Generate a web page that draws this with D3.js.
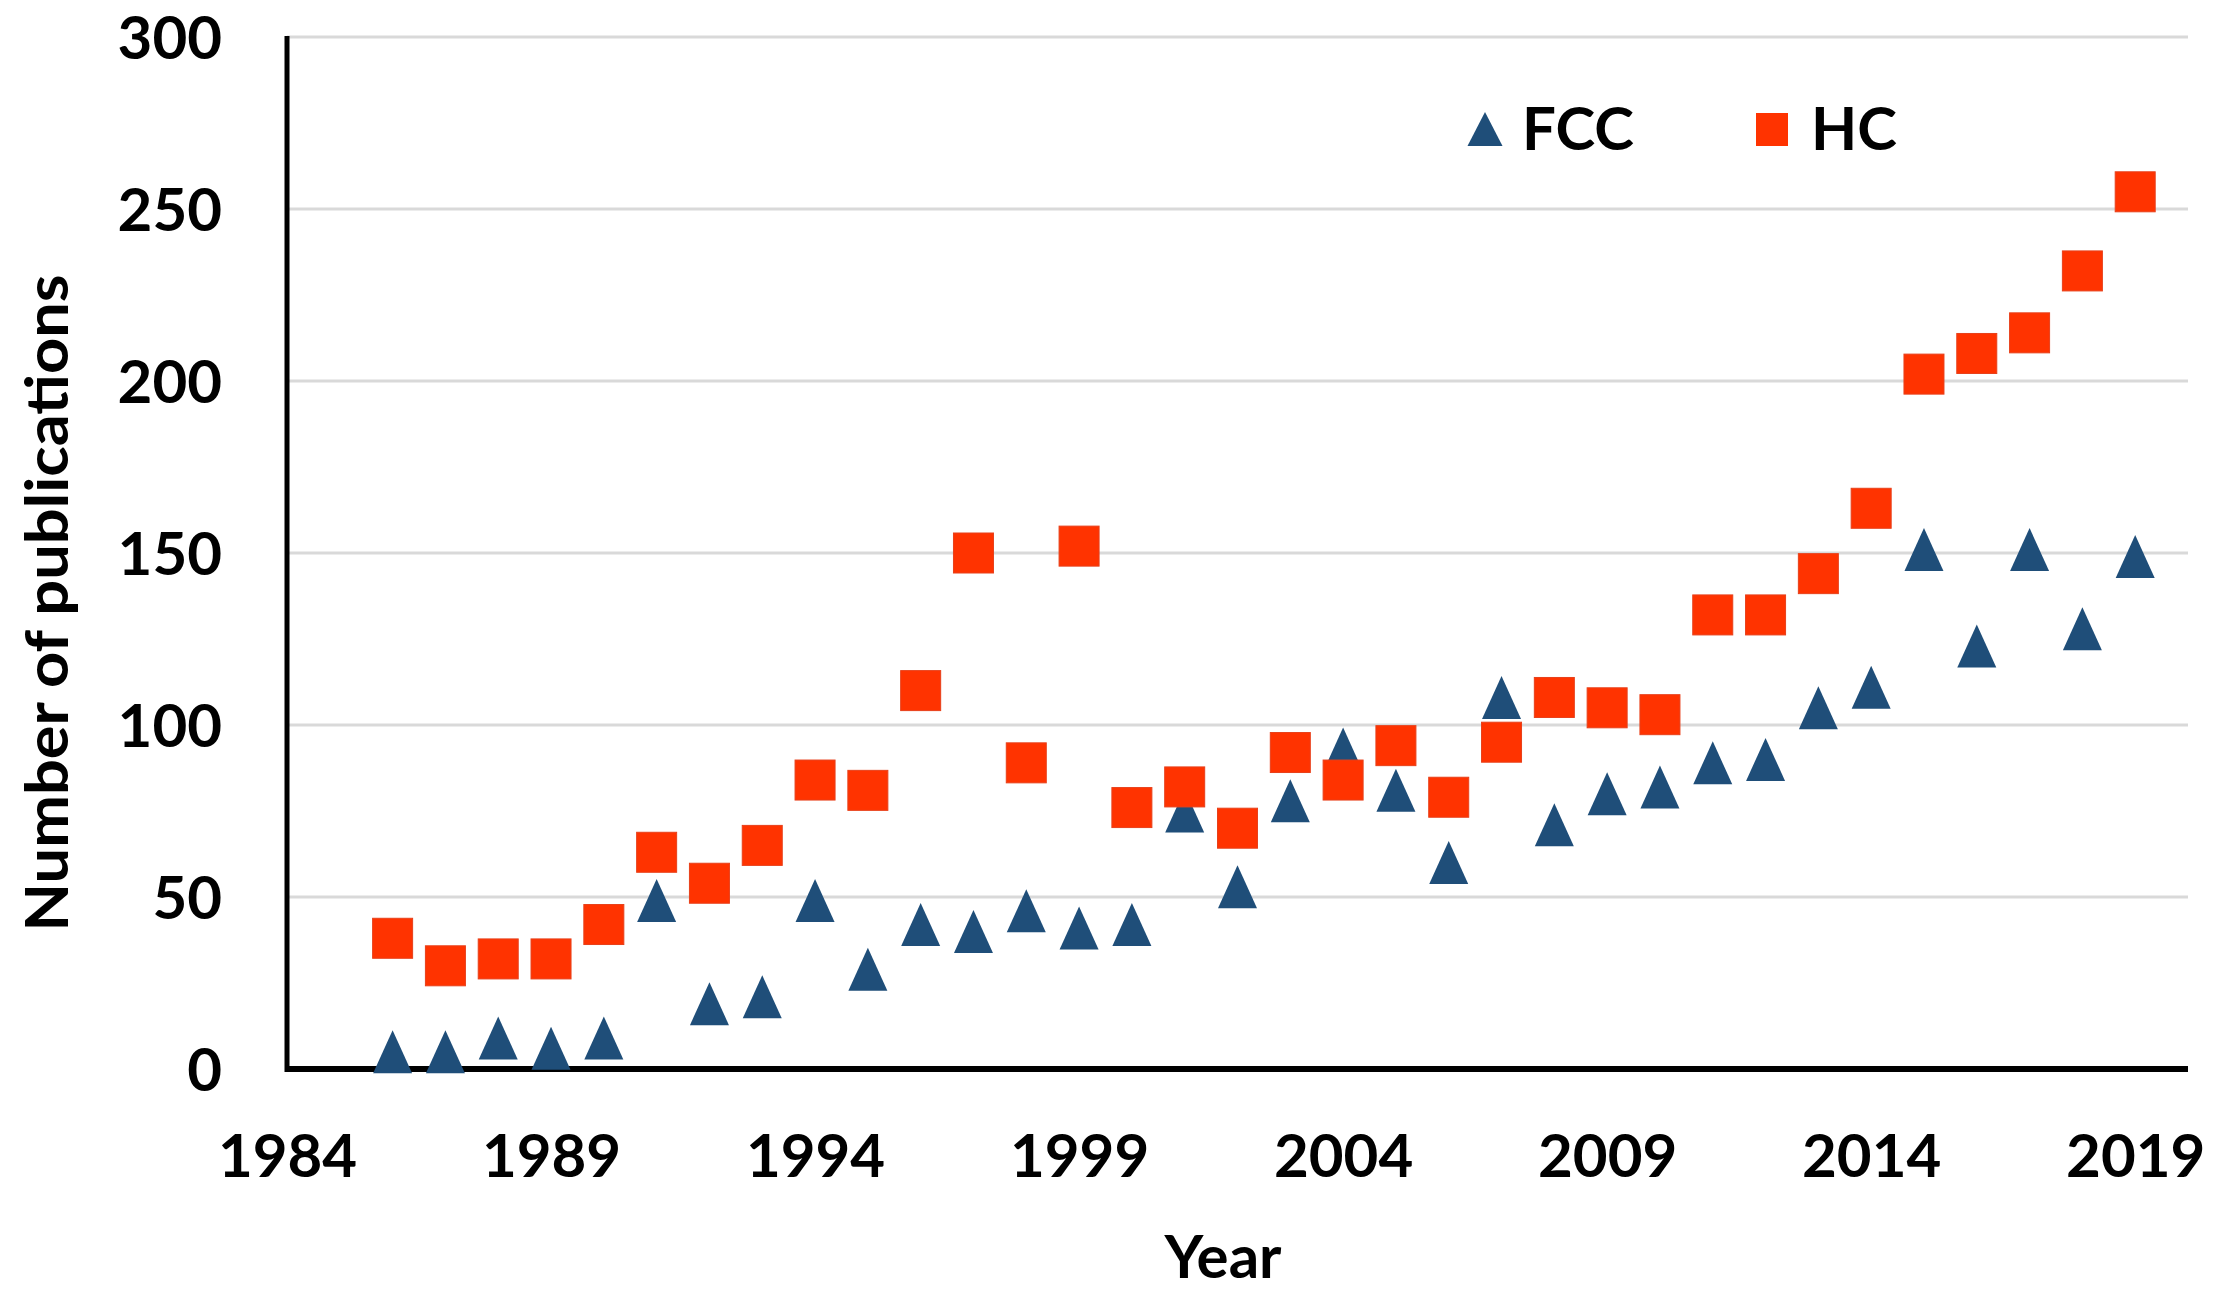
<!DOCTYPE html>
<html>
<head>
<meta charset="utf-8">
<script src="https://cdn.jsdelivr.net/npm/d3@7"></script>
<style>
  html, body { margin: 0; padding: 0; background: #fff; }
  svg { display: block; }
  text { font-family: Lato, "Open Sans", sans-serif; font-weight: bold; fill: #000; }
</style>
</head>
<body>
<svg id="chart" width="2215" height="1297"></svg>
<script>
const years = [1986,1987,1988,1989,1990,1991,1992,1993,1994,1995,1996,1997,1998,1999,2000,2001,2002,2003,2004,2005,2006,2007,2008,2009,2010,2011,2012,2013,2014,2015,2016,2017,2018,2019];
const fccValues = [5,5,9,6,9,49,19,21,49,29,42,40,46,41,42,75,53,78,93,81,60,108,71,80,82,89,90,105,111,151,123,151,128,149];
const hcValues = [38,30,32,32,42,63,54,65,84,81,110,150,89,152,76,82,70,92,84,94,79,95,108,105,103,132,132,144,163,202,208,214,232,255];
const xTicks = [1984,1989,1994,1999,2004,2009,2014,2019];
const yTicks = [0,50,100,150,200,250,300];
const seriesNames = ["FCC","HC"];
const seriesColors = ["#1f4e79","#ff3300"];

(function () {
const svg = d3.select("#chart");
const pLeft = 287, pRight = 2188, pTop = 37, pBottom = 1069;

const x = d3.scaleLinear().domain([1984, 2020]).range([pLeft, pRight]);
const y = d3.scaleLinear().domain([0, 300]).range([pBottom, pTop]);

// gridlines
svg.append("g").selectAll("line").data(yTicks.filter(d => d > 0)).join("line")
  .attr("x1", pLeft).attr("x2", pRight)
  .attr("y1", d => y(d)).attr("y2", d => y(d))
  .attr("stroke", "#d9d9d9").attr("stroke-width", 3);

// y axis labels
const yAxis = d3.axisLeft(y).tickValues(yTicks).tickSize(0).tickPadding(0);
const gy = svg.append("g").attr("transform", `translate(222,0)`).call(yAxis);
gy.select(".domain").remove();
gy.selectAll("text").attr("font-size", 60).attr("font-family", "Lato, sans-serif")
  .attr("font-weight", "bold").attr("fill", "#000").attr("dy", "0.36em").attr("x", 0);

// x axis labels
const xAxis = d3.axisBottom(x).tickValues(xTicks).tickFormat(d3.format("d")).tickSize(0).tickPadding(0);
const gx = svg.append("g").attr("transform", `translate(0,1135)`).call(xAxis);
gx.select(".domain").remove();
gx.selectAll("text").attr("font-size", 60).attr("font-family", "Lato, sans-serif")
  .attr("font-weight", "bold").attr("fill", "#000").attr("dy", "0.7em").attr("y", 0);

// axis lines
svg.append("line").attr("x1", pLeft).attr("x2", pLeft).attr("y1", pTop - 1).attr("y2", pBottom + 3)
  .attr("stroke", "#000").attr("stroke-width", 5);
svg.append("line").attr("x1", pLeft - 2).attr("x2", pRight).attr("y1", pBottom).attr("y2", pBottom)
  .attr("stroke", "#000").attr("stroke-width", 6);

// triangles (FCC)
const tw = 39, th = 43;
svg.append("g").selectAll("path").data(years.map((yr, i) => ({yr, v: fccValues[i]}))).join("path")
  .attr("d", d => {
    const cx = x(d.yr), cy = y(d.v);
    return `M${cx},${cy - th/2}L${cx + tw/2},${cy + th/2}L${cx - tw/2},${cy + th/2}Z`;
  })
  .attr("fill", seriesColors[0]);

// squares (HC)
const sq = 40;
svg.append("g").selectAll("rect").data(years.map((yr, i) => ({yr, v: hcValues[i]}))).join("rect")
  .attr("x", d => x(d.yr) - sq/2).attr("y", d => y(d.v) - sq/2)
  .attr("width", sq).attr("height", sq)
  .attr("fill", seriesColors[1]).attr("stroke", "#e8401a").attr("stroke-width", 1);

// legend
const lg = svg.append("g");
lg.append("path").attr("d", "M1485,112L1502.5,146L1467.5,146Z").attr("fill", seriesColors[0]);
lg.append("text").attr("x", 1522).attr("y", 150).attr("font-size", 60).text(seriesNames[0]);
lg.append("rect").attr("x", 1756).attr("y", 113).attr("width", 32).attr("height", 33).attr("fill", seriesColors[1]);
lg.append("text").attr("x", 1811).attr("y", 150).attr("font-size", 60).text(seriesNames[1]);

// axis titles
svg.append("text").attr("x", 1223).attr("y", 1278).attr("text-anchor", "middle")
  .attr("font-size", 60).text("Year");
svg.append("text").attr("transform", "translate(68,603) rotate(-90)").attr("text-anchor", "middle")
  .attr("font-size", 60).attr("textLength", 657).attr("lengthAdjust", "spacingAndGlyphs")
  .text("Number of publications");
})();
</script>
</body>
</html>
